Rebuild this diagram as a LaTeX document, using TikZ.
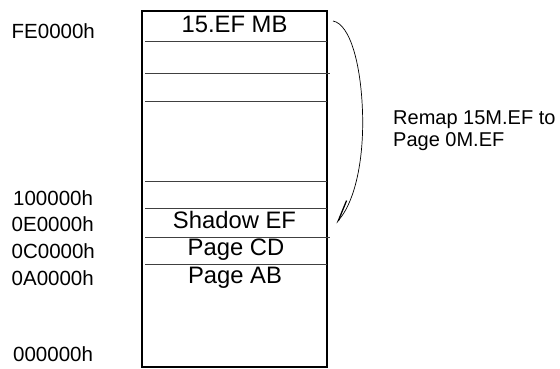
\documentclass[tikz,border=0pt]{standalone}
\usepackage{fontspec}
\setmainfont{Liberation Sans}
\usetikzlibrary{arrows.meta}

\begin{document}
\begin{tikzpicture}[
  x=1pt,y=1pt,
  addr/.style={anchor=base west,inner sep=0pt,font=\fontsize{20.5}{22}\selectfont},
  cell/.style={anchor=base,inner sep=0pt,font=\fontsize{23.8}{25}\selectfont},
  note/.style={anchor=north west,inner sep=0pt,align=left,
    font=\fontsize{20}{21.6}\selectfont},
  rowline/.style={line width=.8pt,black!75},
  remap/.style={line width=.7pt}
]
  \useasboundingbox (0,0) rectangle (560,-369);

  % The memory column with its row dividers.
  \node[draw,line width=1.8pt,minimum width=185pt,minimum height=356pt,
    inner sep=0pt] (mem) at (234.5,-189) {};
  \draw[rowline] (145,-41) -- (327,-41);
  \draw[rowline] (145,-73) -- (330,-73);
  \draw[rowline] (145,-101) -- (327,-101);
  \draw[rowline] (145,-181) -- (327,-181);
  \draw[rowline] (145,-208) -- (327,-208);
  \draw[rowline] (145,-237) -- (330,-237);
  \draw[rowline] (145,-264) -- (327,-264);

  \node[cell] (top) at (234.5,-32.3) {15.EF MB};
  \node[cell] (shadow) at (234.5,-228.3) {Shadow EF};
  \node[cell] (pagecd) at (236,-255.7) {Page CD};
  \node[cell] (pageab) at (235,-283.3) {Page AB};

  % Addresses down the left side.
  \node[addr] (afe) at (11.5,-38.3) {FE0000h};
  \node[addr] (a10) at (13,-205) {100000h};
  \node[addr] (a0e) at (11.5,-231.3) {0E0000h};
  \node[addr] (a0c) at (11.5,-258) {0C0000h};
  \node[addr] (a0a) at (11.5,-285) {0A0000h};
  \node[addr] (a00) at (13,-361.7) {000000h};

  % Remap arc from the top block down to the shadow block.
  \coordinate (remapfrom) at (333,-21);
  \coordinate (remapto) at (336,-223);
  \draw[remap,-{Straight Barb[harpoon,right,length=20pt,width=14pt,
      line width=1.3pt]}]
    (remapfrom) .. controls (350,-24) and (362,-65) .. (362.7,-120)
    .. controls (363,-170) and (352,-205) .. (remapto);
  \node[note] (remaptext) at (393,-110.7) {Remap 15M.EF to\\Page 0M.EF};
\end{tikzpicture}
\end{document}
